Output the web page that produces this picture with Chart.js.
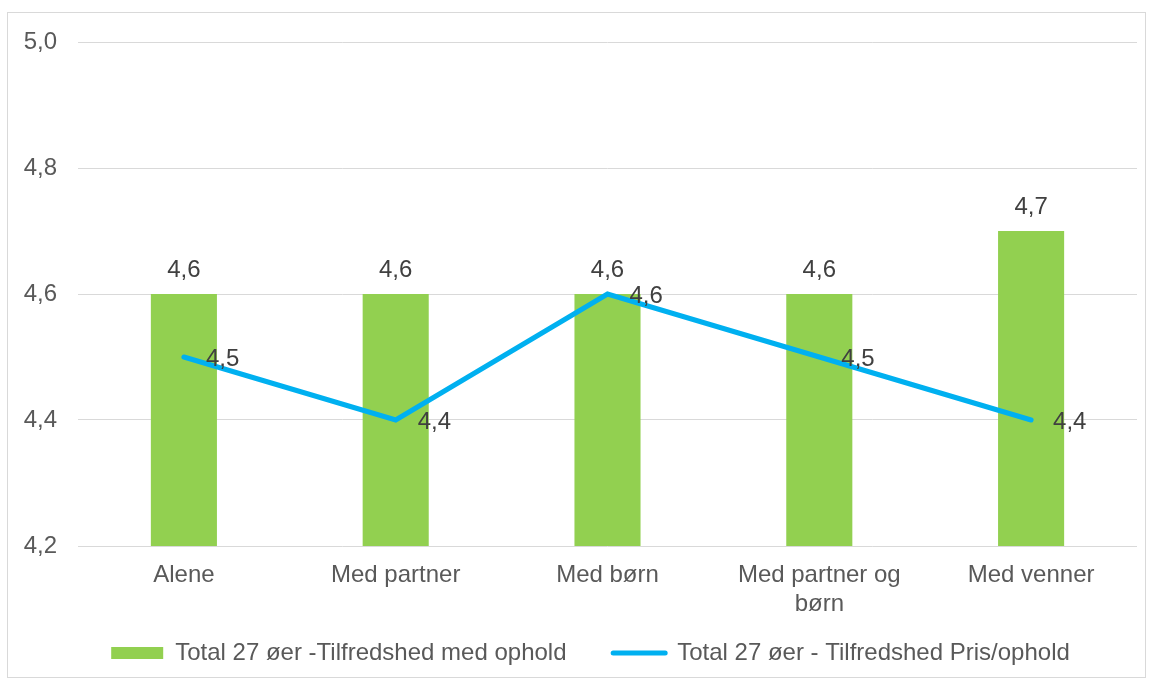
<!DOCTYPE html>
<html>
<head>
<meta charset="utf-8">
<script src="https://cdn.jsdelivr.net/npm/chart.js@4.4.1/dist/chart.umd.min.js"></script>
<style>
  body { margin: 0; background: #fff; }
  #box { position: absolute; left: 7px; top: 12px; width: 1137px; height: 664px; border: 1px solid #d9d9d9; }
</style>
</head>
<body>
<div id="box"><canvas id="chart" width="1137" height="664"></canvas></div>
<script>
const categories = ["Alene", "Med partner", "Med børn", ["Med partner og", "børn"], "Med venner"];
const stayValues = [4.6, 4.6, 4.6, 4.6, 4.7];
const priceValues = [4.5, 4.4, 4.6, 4.5, 4.4];
const yTicks = [4.2, 4.4, 4.6, 4.8, 5.0];

const GREEN = "#92d050";
const BLUE = "#00b0f0";
const FONT = "'Liberation Sans', Arial, sans-serif";

const fmt = v => v.toFixed(1).replace(".", ",");

// value labels: above the bars, right of the line points
const valueLabels = {
  id: "valueLabels",
  afterLayout(chart) {
    // legend sits a little right of centre in the original
    chart.legend.left += 18;
    chart.legend.right += 18;
  },
  afterDraw(chart) {
    const ctx = chart.ctx;
    ctx.save();
    ctx.font = "24px " + FONT;
    ctx.fillStyle = "#404040";
    ctx.textBaseline = "middle";
    chart.getDatasetMeta(0).data.forEach((el, i) => {
      ctx.textAlign = "center";
      ctx.fillText(fmt(stayValues[i]), el.x, el.y - 24);
    });
    chart.getDatasetMeta(1).data.forEach((el, i) => {
      ctx.textAlign = "left";
      ctx.fillText(fmt(priceValues[i]), el.x + 22, el.y + 2);
    });
    ctx.restore();
  }
};

new Chart(document.getElementById("chart"), {
  type: "bar",
  data: {
    labels: categories,
    datasets: [
      {
        label: "Total 27 øer -Tilfredshed med ophold",
        data: stayValues,
        backgroundColor: GREEN,
        categoryPercentage: 1,
        barPercentage: 0.312,
        order: 2
      },
      {
        type: "line",
        label: "Total 27 øer - Tilfredshed Pris/ophold",
        data: priceValues,
        borderColor: BLUE,
        backgroundColor: BLUE,
        borderWidth: 5,
        borderCapStyle: "round",
        pointRadius: 0,
        tension: 0,
        order: 1
      }
    ]
  },
  options: {
    responsive: false,
    animation: false,
    layout: { padding: { top: 29, right: 8, bottom: 2, left: 0 } },
    plugins: {
      tooltip: { enabled: false },
      legend: {
        position: "bottom",
        labels: {
          font: { family: FONT, size: 24 },
          color: "#595959",
          usePointStyle: true,
          pointStyleWidth: 52,
          boxHeight: 12,
          padding: 20,
          sort: (a, b) => a.datasetIndex - b.datasetIndex,
          generateLabels(chart) {
            return chart.data.datasets.map((ds, i) => ({
              text: i === 0 ? ds.label + "    " : ds.label,
              datasetIndex: i,
              fillStyle: ds.backgroundColor,
              strokeStyle: i === 0 ? GREEN : BLUE,
              lineWidth: i === 0 ? 0 : 5,
              lineCap: "round",
              pointStyle: i === 0 ? "rect" : "line",
              fontColor: "#595959"
            }));
          }
        }
      }
    },
    scales: {
      x: {
        grid: { display: false },
        border: { display: false },
        ticks: { color: "#595959", font: { family: FONT, size: 24 }, padding: 7, maxRotation: 0 },
        afterFit(scale) { scale.height = 75; }
      },
      y: {
        min: 4.2,
        max: 5.0,
        afterBuildTicks(scale) { scale.ticks = yTicks.map(v => ({ value: v })); },
        grid: { color: "#d9d9d9", lineWidth: 1, drawTicks: true, tickLength: 21, tickColor: "rgba(0,0,0,0)" },
        border: { display: false },
        ticks: { color: "#595959", font: { family: FONT, size: 24 }, padding: 0, callback: v => fmt(v) },
        afterFit(scale) { scale.width = 70; }
      }
    }
  },
  plugins: [valueLabels]
});
</script>
</body>
</html>
